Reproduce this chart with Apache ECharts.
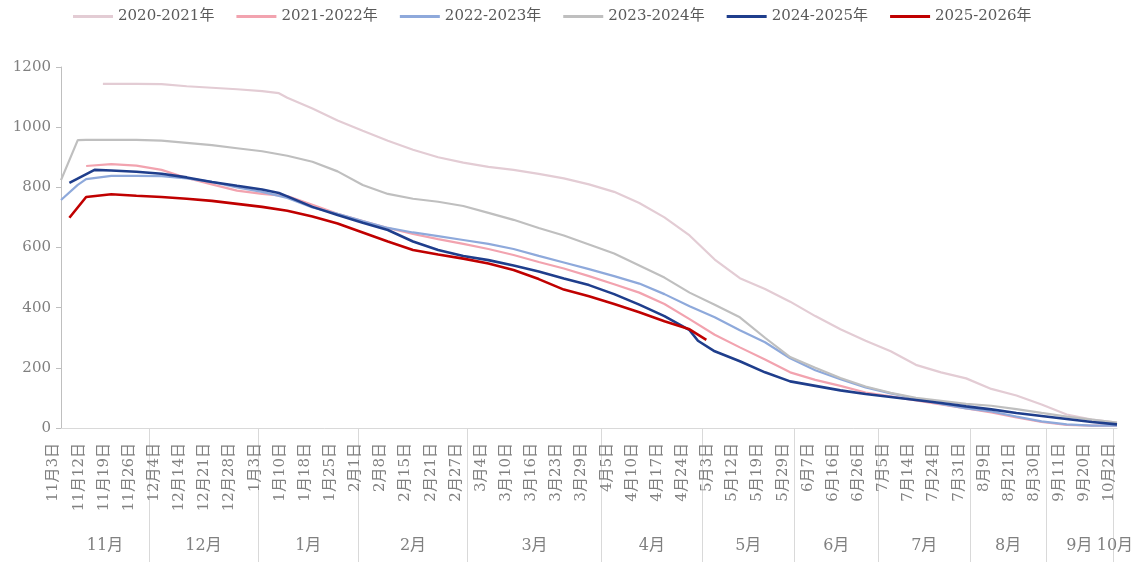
<!DOCTYPE html>
<html><head><meta charset="utf-8">
<script src="https://cdn.jsdelivr.net/npm/echarts@6/dist/echarts.min.js"></script>
<style>html,body{margin:0;padding:0;background:#fff}#c{width:1138px;height:562px}</style>
</head><body><div id="c"></div>
<script>
// ---- tick labels (one every 3 sub-categories) ----
const dayLabels = ['11月3日','11月12日','11月19日','11月26日','12月4日','12月14日','12月21日','12月28日',
 '1月3日','1月10日','1月18日','1月25日','2月1日','2月8日','2月15日','2月21日','2月27日',
 '3月4日','3月10日','3月16日','3月23日','3月29日','4月5日','4月10日','4月17日','4月24日',
 '5月3日','5月12日','5月19日','5月29日','6月7日','6月16日','6月26日','7月5日','7月14日','7月24日','7月31日',
 '8月9日','8月21日','8月30日','9月11日','9月20日','10月2日'];
const subPerLabel = 3;
const months = ['11月','12月','1月','2月','3月','4月','5月','6月','7月','8月','9月','10月'];
const monthStart = [0,11,24,36,49,65,77,88,98,109,118,126];

const seriesNames = ['2020-2021年','2021-2022年','2022-2023年','2023-2024年','2024-2025年','2025-2026年'];
const colors = ['#E3CCD4','#F2A3AF','#8EA9DB','#BFBFBF','#1F3E8C','#C00000'];

// values at the labelled dates (43 each)
const v2020 = [null,null,1144,1144,1143,1136,1131,1126,1120,1098,1062,1022,988,955,925,900,882,868,858,845,830,810,785,748,700,640,560,498,462,420,372,328,290,255,210,185,165,130,108,78,45,28,18];
const v2021 = [null,871,877,872,858,831,810,789,778,771,742,712,688,665,645,628,612,595,575,552,530,505,478,450,412,362,310,268,228,185,160,140,118,105,92,78,65,52,35,20,10,8,8];
const v2022 = [758,827,838,838,837,830,818,800,785,765,733,712,688,665,650,638,625,612,595,572,550,528,505,480,445,405,368,325,285,232,192,162,135,115,98,80,65,55,38,22,12,8,8];
const v2023 = [824,958,958,958,955,948,940,930,920,905,885,853,808,778,762,752,738,715,692,665,640,610,580,540,500,450,410,368,300,236,200,166,138,117,100,90,80,74,63,50,38,28,18];
const v2024 = [null,null,856,852,845,833,818,805,793,770,735,708,682,658,620,592,572,558,540,520,497,475,445,410,372,325,255,222,185,155,140,125,113,103,93,83,72,62,50,40,30,20,12];
const v2025 = [null,768,777,772,768,762,755,745,735,722,703,680,650,620,592,577,563,547,525,495,460,438,412,385,355,328,null,null,null,null,null,null,null,null,null,null,null,null,null,null,null,null,null];
// extra readings between labelled dates: [sub-category index, value]
const x2020 = [[5,1144],[26,1113]];
const x2021 = [];
const x2022 = [[2,808]];
const x2023 = [[2,957]];
const x2024 = [[1,815],[4,858],[26,781],[76,290]];
const x2025 = [[1,699],[77,293]];

const nCat = (dayLabels.length - 1) * subPerLabel + 1;
const categories = [];
for (let i = 0; i < nCat; i++) categories.push(i % subPerLabel === 0 ? dayLabels[i / subPerLabel] : '');

function build(vals, extra) {
  const d = new Array(nCat).fill(null);
  vals.forEach((v, k) => { if (v !== null) d[k * subPerLabel] = v; });
  extra.forEach(p => { d[p[0]] = p[1]; });
  return d;
}
const allVals = [v2020, v2021, v2022, v2023, v2024, v2025];
const allExtra = [x2020, x2021, x2022, x2023, x2024, x2025];

const bounds = monthStart.slice(1).map(s => s - 0.5);
const segStart = monthStart.map((s, i) => i === 0 ? 0 : s - 0.5);
const segEnd = monthStart.map((s, i) => i < monthStart.length - 1 ? monthStart[i + 1] - 0.5 : nCat - 1);
const mids = segStart.map((s, i) => (s + segEnd[i]) / 2);

const FONT = "'DejaVu Serif','Noto Sans CJK SC',serif";
const chart = echarts.init(document.getElementById('c'), null, {renderer: 'canvas'});
chart.setOption({
  animation: false,
  backgroundColor: '#fff',
  color: colors,
  legend: {
    top: 4, left: 68, icon: 'rect', itemWidth: 40, itemHeight: 3, itemGap: 22,
    textStyle: {color: '#595959', fontSize: 15, fontFamily: FONT}
  },
  grid: {left: 61, right: 21, top: 67, bottom: 134},
  xAxis: [{
    type: 'category', data: categories, boundaryGap: false,
    axisLine: {lineStyle: {color: '#D9D9D9', width: 1}},
    axisTick: {show: false},
    axisLabel: {interval: subPerLabel - 1, rotate: 90, margin: 15, color: '#808080', fontSize: 15,
      fontFamily: FONT, verticalAlign: 'bottom'},
    splitLine: {show: false}
  }, {
    type: 'value', min: 0, max: nCat - 1, position: 'bottom', offset: 134,
    axisLine: {show: false},
    splitLine: {show: false},
    axisTick: {show: true, inside: true, length: 134, customValues: bounds, lineStyle: {color: '#D9D9D9'}},
    axisLabel: {show: true, inside: true, margin: 8, customValues: mids, color: '#808080', fontSize: 16,
      fontFamily: FONT,
      formatter: v => { let b = 0; mids.forEach((m, i) => { if (Math.abs(m - v) < Math.abs(mids[b] - v)) b = i; }); return months[b]; }}
  }],
  yAxis: {
    type: 'value', min: 0, max: 1200, interval: 200,
    axisLine: {show: true, lineStyle: {color: '#BFBFBF'}},
    axisTick: {show: true, length: 5, lineStyle: {color: '#BFBFBF'}},
    axisLabel: {color: '#808080', fontSize: 15, fontFamily: FONT, margin: 10, formatter: v => String(v)},
    splitLine: {show: false}
  },
  series: seriesNames.map((n, i) => ({
    name: n, type: 'line', data: build(allVals[i], allExtra[i]), connectNulls: true,
    showSymbol: false, symbol: 'none',
    lineStyle: {width: i >= 4 ? 2.6 : 2.2, color: colors[i]},
    itemStyle: {color: colors[i]}
  }))
});
</script></body></html>
